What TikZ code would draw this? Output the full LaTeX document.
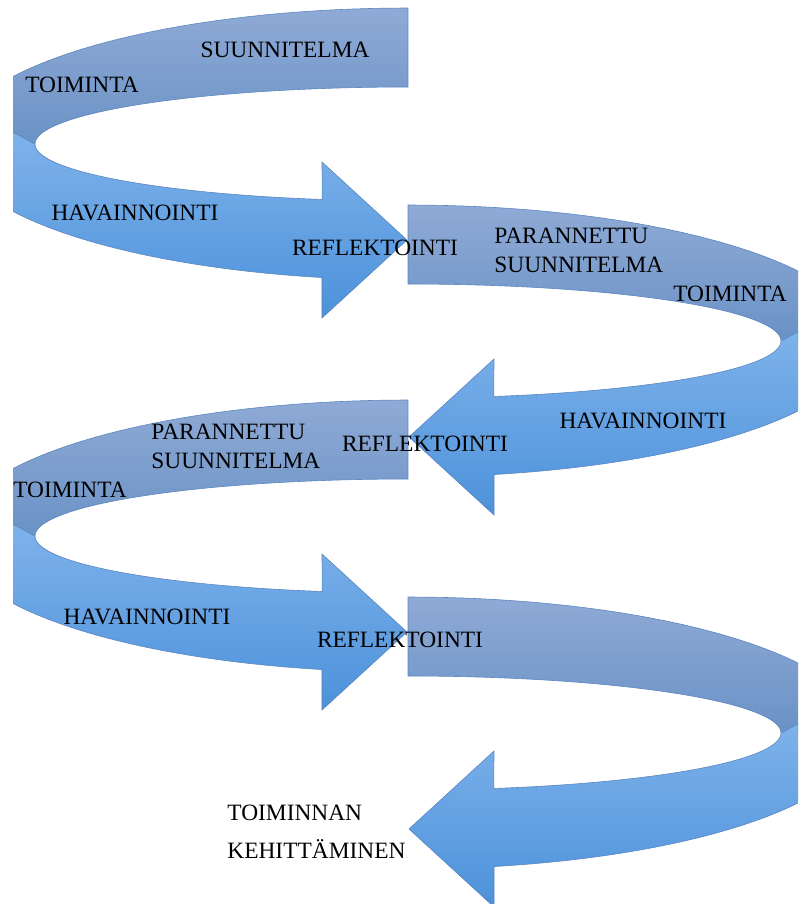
\documentclass[tikz,border=0pt]{standalone}
\usepackage{fontspec}
\setmainfont{Liberation Serif}
\definecolor{backtop}{RGB}{143,170,214}
\definecolor{backbot}{RGB}{106,146,197}
\definecolor{fronttop}{RGB}{133,182,237}
\definecolor{frontbot}{RGB}{76,146,218}
\definecolor{edge}{RGB}{92,134,192}

\begin{document}
\begin{tikzpicture}[x=0.5pt,y=-0.5pt,
  back/.style={top color=backtop,bottom color=backbot,draw=edge,line width=0.3pt},
  front/.style={top color=fronttop,bottom color=frontbot,draw=edge,line width=0.3pt},
  lbl/.style={font=\fontsize{11.7}{14}\selectfont,inner sep=0pt,anchor=base}]

\useasboundingbox (0,0) rectangle (798,904);

% Four turns of the spiral (centre y, turning side)
\begin{scope}
\clip (13,0) rectangle (798,904);
\foreach \cy/\dir in {144/1,341/-1,536/1,733/-1}{
  \begin{scope}[shift={(408,\cy)},xscale=\dir]
    % back half of the turn
    \path[back] plot[domain=270:180,samples=40] ({455*cos(\x)},{136*sin(\x)})
      -- plot[domain=180:270,samples=40] ({373*cos(\x)},{57*sin(\x)}) -- cycle;
    % front half with arrow head
    \path[front] plot[domain=195:100.9,samples=40] ({455*cos(\x)},{136*sin(\x)})
      -- (-86,174) -- (-1,96) -- (-86,18)
      -- plot[domain=103.3:180,samples=40] ({373*cos(\x)},{57*sin(\x)}) -- cycle;
  \end{scope}
}
\end{scope}

% Labels
\node[lbl] (suunnitelma) at (285,58) {SUUNNITELMA};
\node[lbl] (toiminta1) at (82,93) {TOIMINTA};
\node[lbl] (havainnointi1) at (135,220) {HAVAINNOINTI};
\node[lbl] (reflektointi1) at (375,255) {REFLEKTOINTI};

\node[lbl,anchor=base west] (parannettu1) at (494,243) {PARANNETTU};
\node[lbl,anchor=base west] (suunnitelma1) at (494,272) {SUUNNITELMA};
\node[lbl] (toiminta2) at (730,301) {TOIMINTA};
\node[lbl] (havainnointi2) at (643,428) {HAVAINNOINTI};
\node[lbl] (reflektointi2) at (425,451) {REFLEKTOINTI};

\node[lbl,anchor=base west] (parannettu2) at (151,439) {PARANNETTU};
\node[lbl,anchor=base west] (suunnitelma2) at (151,468) {SUUNNITELMA};
\node[lbl] (toiminta3) at (70,497) {TOIMINTA};
\node[lbl] (havainnointi3) at (147,624) {HAVAINNOINTI};
\node[lbl] (reflektointi3) at (400,647) {REFLEKTOINTI};

\node[lbl,anchor=base west] (toiminnan) at (227,820) {TOIMINNAN};
\node[lbl,anchor=base west] (kehittaminen) at (227,858) {KEHITTÄMINEN};

\end{tikzpicture}
\end{document}
